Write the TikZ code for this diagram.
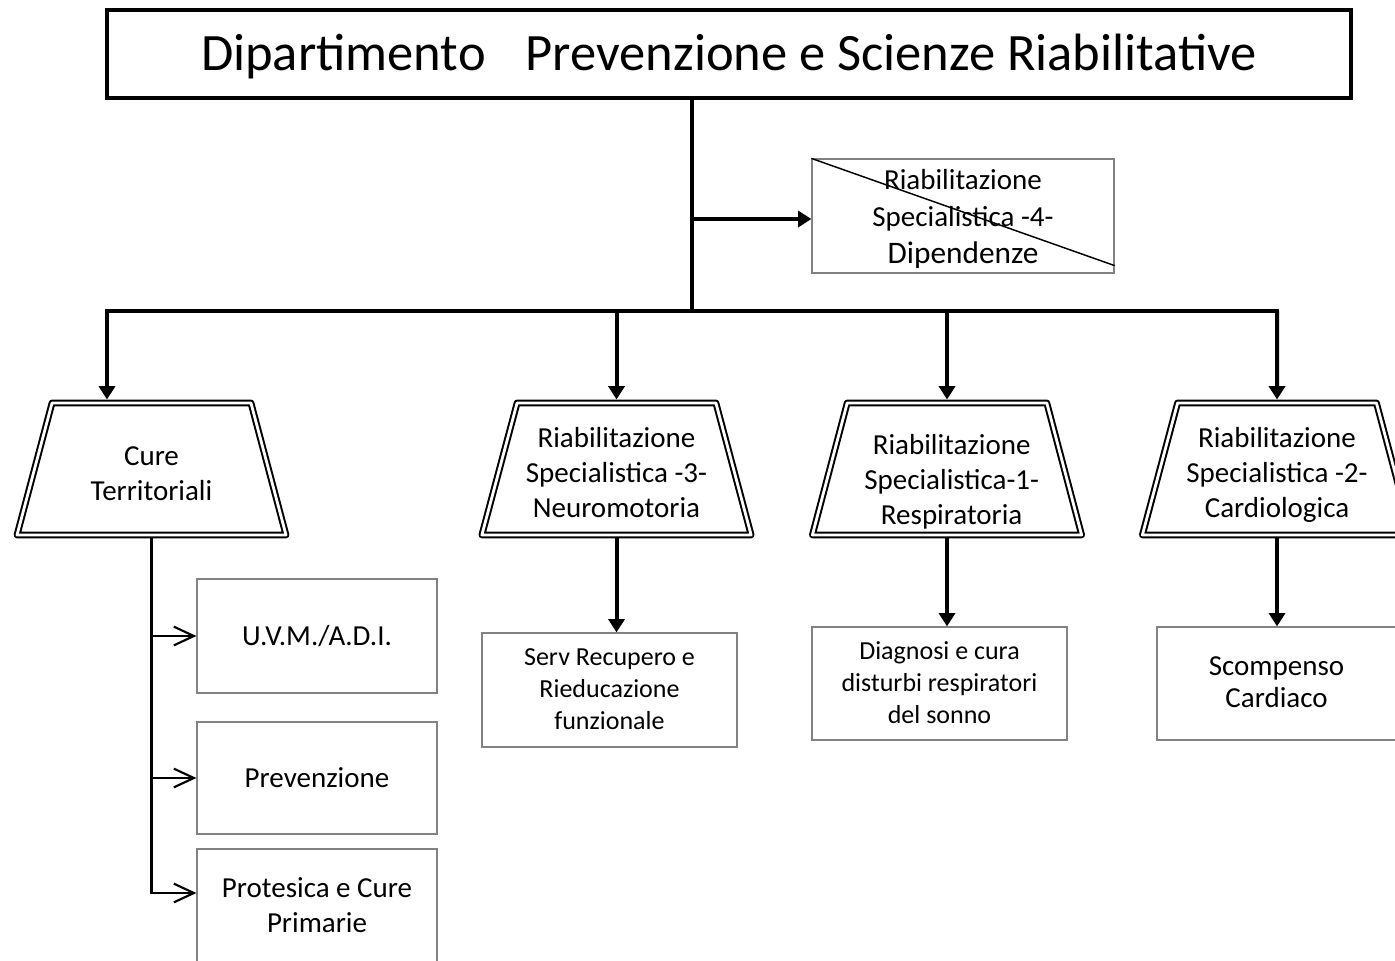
\documentclass[tikz,border=0pt]{standalone}
\usepackage{fontspec}
\setmainfont{Carlito}
\usetikzlibrary{arrows.meta,shapes.geometric,calc}
\definecolor{boxgray}{RGB}{130,130,130}
\newcommand\mltext[2]{\raisebox{-#1}[\height][\depth]{\begin{tabular}{@{}c@{}}#2\end{tabular}}}
\begin{document}
\begin{tikzpicture}[x=0.75pt,y=-0.75pt,
  titlebox/.style={draw, line width=3.4pt, rectangle, minimum width=933pt, minimum height=66pt, inner sep=0pt, font=\fontsize{39.4}{47}\selectfont},
  trunk/.style={line width=3pt, -{Triangle[length=10pt,width=12pt]}},
  barline/.style={line width=3pt, line cap=rect},
  trap/.style={trapezium, trapezium left angle=73, trapezium right angle=73, trapezium stretches=true, draw, double, line width=1.5pt, double distance=2.1pt, line join=round, minimum width=202pt, minimum height=99pt, inner sep=0pt, outer sep=2.6pt, font=\fontsize{21.75}{26.25}\selectfont},
  gbox/.style={draw=boxgray, line width=0.9pt, rectangle, inner sep=0pt},
  branch/.style={line width=1.6pt, -{Straight Barb[length=15pt,width=14pt]}}
]
\useasboundingbox (0,0) rectangle (1395,960);
\clip (0,0) rectangle (1395,960);

% title
\node[titlebox] (title) at (729,54) {\mltext{3pt}{Dipartimento\hspace{30pt}Prevenzione e Scienze Riabilitative}};

% crossed box
\node[gbox, minimum width=226.5pt, minimum height=85.5pt, font=\fontsize{21.75}{27.75}\selectfont] (d4) at (963,216)
  {\mltext{2.25pt}{Riabilitazione\\Specialistica -4-\\{\fontsize{23.5}{27.75}\selectfont Dipendenze}}};
\draw[line width=1.1pt] (d4.north west) -- ($(d4.south east)+(0,-8)$);

% trapezoids
\node[trap] (t1) at (151.5,469) {\mltext{5.6pt}{Cure\\Territoriali}};
\node[trap] (t2) at (616.5,469) {\mltext{4.9pt}{Riabilitazione\\Specialistica -3-\\Neuromotoria}};
\node[trap] (t3) at (947,469) {\mltext{10pt}{\hspace*{7pt}Riabilitazione\\\hspace*{7pt}Specialistica-1-\\\hspace*{7pt}Respiratoria}};
\node[trap] (t4) at (1277,469) {\mltext{4.9pt}{Riabilitazione\\Specialistica -2-\\Cardiologica}};

% bottom boxes
\node[gbox, minimum width=191.25pt, minimum height=85.5pt, font=\fontsize{19.5}{24}\selectfont] (b2) at (609.5,690)
  {\mltext{1pt}{Serv Recupero e\\Rieducazione\\funzionale}};
\node[gbox, minimum width=191.25pt, minimum height=84.75pt, font=\fontsize{19.5}{24}\selectfont] (b3) at (939.5,683.5)
  {\mltext{1pt}{Diagnosi e cura\\disturbi respiratori\\del sonno}};
\node[gbox, minimum width=191.25pt, minimum height=84.75pt, font=\fontsize{21.75}{24}\selectfont] (b4) at (1284.5,683.5)
  {\mltext{1.5pt}{Scompenso\\Cardiaco}\hspace*{12pt}};

% left boxes
\node[gbox, minimum width=180pt, minimum height=85.5pt, font=\fontsize{21.75}{26.25}\selectfont] (u) at (317,636) {U.V.M./A.D.I.};
\node[gbox, minimum width=180pt, minimum height=84pt, font=\fontsize{21.75}{26.25}\selectfont] (p) at (317,778) {Prevenzione};
\node[gbox, minimum width=180pt, minimum height=85.5pt, font=\fontsize{21.75}{26.25}\selectfont] (pc) at (317,906)
  {\mltext{1.5pt}{Protesica e Cure\\Primarie}};

% connectors
\coordinate (j) at (692,311);
\coordinate (k) at (692,219);
\coordinate (bl) at (107,311);
\coordinate (br) at (1277,311);
\draw[barline] (title.south -| j) -- (j);
\draw[barline] (bl) -- (br);
\draw[trunk] (k) -- (k -| d4.west);
\draw[trunk] (bl) -- (bl |- t1.north);
\draw[trunk] (t2.north |- bl) -- (t2.north);
\draw[trunk] (t3.north |- bl) -- (t3.north);
\draw[trunk] (br) -- (t4.north);
\draw[trunk] (t2.south) -- (t2.south |- b2.north);
\draw[trunk] (t3.south) -- (t3.south |- b3.north);
\draw[trunk] (t4.south) -- (t4.south |- b4.north);

\coordinate (pca) at ($(pc.west)+(0,-13)$);
\draw[branch] (t1.south) -- (t1.south |- pca) -- (pca);
\draw[branch] (t1.south |- u.west) -- (u.west);
\draw[branch] (t1.south |- p.west) -- (p.west);
\end{tikzpicture}
\end{document}
